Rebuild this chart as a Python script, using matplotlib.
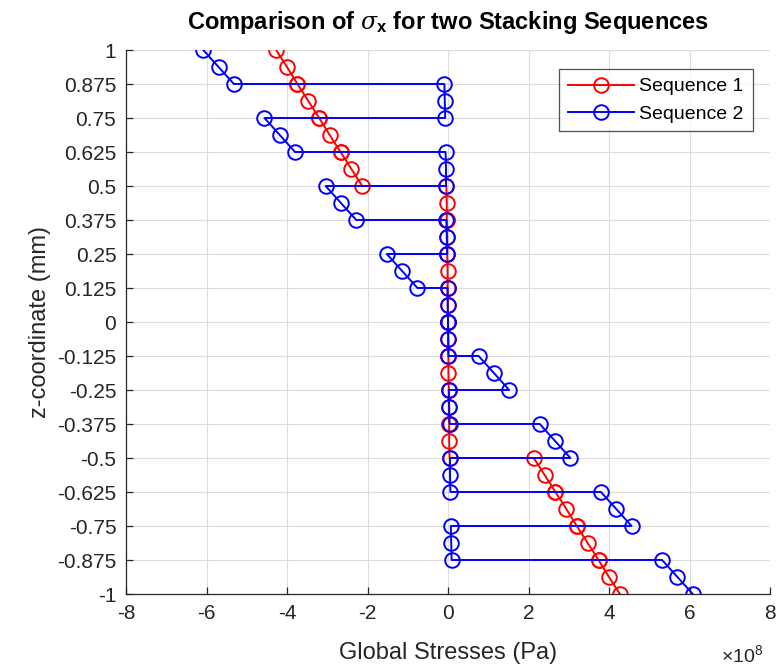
import matplotlib
matplotlib.use("Agg")
import matplotlib.pyplot as plt

plt.rcParams['font.family'] = ['Liberation Sans', 'DejaVu Sans']
plt.rcParams['mathtext.fontset'] = 'custom'
plt.rcParams['mathtext.it'] = 'DejaVu Serif:italic'
plt.rcParams['mathtext.bf'] = 'Liberation Sans:bold'
plt.rcParams['mathtext.rm'] = 'Liberation Sans'

# z-coordinates (mm): 16 plies of 0.125 mm, 3 points per ply (top, mid, bottom)
z = [1, 0.9375, 0.875, 0.875, 0.8125, 0.75, 0.75, 0.6875, 0.625, 0.625, 0.5625, 0.5,
     0.5, 0.4375, 0.375, 0.375, 0.3125, 0.25, 0.25, 0.1875, 0.125, 0.125, 0.0625, 0,
     0, -0.0625, -0.125, -0.125, -0.1875, -0.25, -0.25, -0.3125, -0.375, -0.375, -0.4375, -0.5,
     -0.5, -0.5625, -0.625, -0.625, -0.6875, -0.75, -0.75, -0.8125, -0.875, -0.875, -0.9375, -1]

# Sequence 1 global stress sigma_x (x 1e8 Pa)
seq1 = [-4.27, -4.00, -3.74, -3.74, -3.47, -3.20, -3.20, -2.94, -2.67, -2.67, -2.40, -2.13,
        -0.04, -0.03, -0.03, -0.03, -0.02, -0.02, -0.02, -0.01, -0.01, -0.01, 0.00, 0.00,
        0.00, 0.00, 0.01, 0.01, 0.01, 0.02, 0.02, 0.02, 0.03, 0.03, 0.03, 0.04,
        2.13, 2.40, 2.67, 2.67, 2.94, 3.20, 3.20, 3.47, 3.74, 3.74, 4.00, 4.27]

# Sequence 2 global stress sigma_x (x 1e8 Pa)
seq2 = [-6.08, -5.70, -5.32, -0.09, -0.08, -0.07, -4.56, -4.18, -3.80, -0.06, -0.05, -0.05,
        -3.04, -2.66, -2.28, -0.04, -0.03, -0.02, -1.52, -1.14, -0.76, -0.01, -0.01, 0.00,
        0.00, 0.01, 0.01, 0.76, 1.14, 1.52, 0.02, 0.03, 0.04, 2.28, 2.66, 3.04,
        0.05, 0.05, 0.06, 3.80, 4.18, 4.56, 0.07, 0.08, 0.09, 5.32, 5.70, 6.08]

ytick_vals = [1, 0.875, 0.75, 0.625, 0.5, 0.375, 0.25, 0.125, 0, -0.125, -0.25, -0.375,
              -0.5, -0.625, -0.75, -0.875, -1]
ytick_labels = ['1', '0.875', '0.75', '0.625', '0.5', '0.375', '0.25', '0.125', '0', '-0.125',
                '-0.25', '-0.375', '-0.5', '-0.625', '-0.75', '-0.875', '-1']
xtick_vals = [-8, -6, -4, -2, 0, 2, 4, 6, 8]

fig = plt.figure(figsize=(7.81, 6.70), dpi=100)
ax = fig.add_axes([126/781, 1 - 594/670, (770-126)/781, (594-50)/670])

ax.plot(seq1, z, color='#ff0000', marker='o', markersize=10.5, markerfacecolor='none',
        markeredgewidth=1.4, linewidth=1.4, label='Sequence 1')
ax.plot(seq2, z, color='#0000ff', marker='o', markersize=10.5, markerfacecolor='none',
        markeredgewidth=1.4, linewidth=1.4, label='Sequence 2')

ax.set_xlim(-8, 8)
ax.set_ylim(-1, 1)
ax.set_xticks(xtick_vals)
ax.set_xticklabels([str(v) for v in xtick_vals])
ax.set_yticks(ytick_vals)
ax.set_yticklabels(ytick_labels)

ax.grid(True, color='#dcdcdc', linewidth=0.8)
ax.set_axisbelow(True)
for s in ['top', 'right']:
    ax.spines[s].set_visible(False)
for s in ['left', 'bottom']:
    ax.spines[s].set_color('#262626')
    ax.spines[s].set_linewidth(0.9)
ax.tick_params(direction='in', length=5, width=0.9, colors='#262626', labelsize=15,
               labelcolor='#262626')
ax.tick_params(axis='x', pad=7)
ax.tick_params(axis='y', pad=7)

ax.set_xlabel('Global Stresses (Pa)', fontsize=17, color='#262626', labelpad=14)
ax.set_ylabel('z-coordinate (mm)', fontsize=17, color='#262626', labelpad=4)
ax.set_title(r'Comparison of $\sigma_{\mathbf{x}}$ for two Stacking Sequences',
             fontsize=17, fontweight='bold', pad=15)

fig.text(742/781, 1 - 655/670, r'$\times10^{8}$', fontsize=14, color='#262626',
         ha='center', va='center')

leg = ax.legend(loc='upper right', bbox_to_anchor=(0.973, 0.965), fontsize=14,
                frameon=True, fancybox=False, edgecolor='#262626', handlelength=3.4,
                borderpad=0.45, labelspacing=0.5, handletextpad=0.3, borderaxespad=0)
leg.get_frame().set_linewidth(0.9)

fig.savefig('out.png', dpi=100)
